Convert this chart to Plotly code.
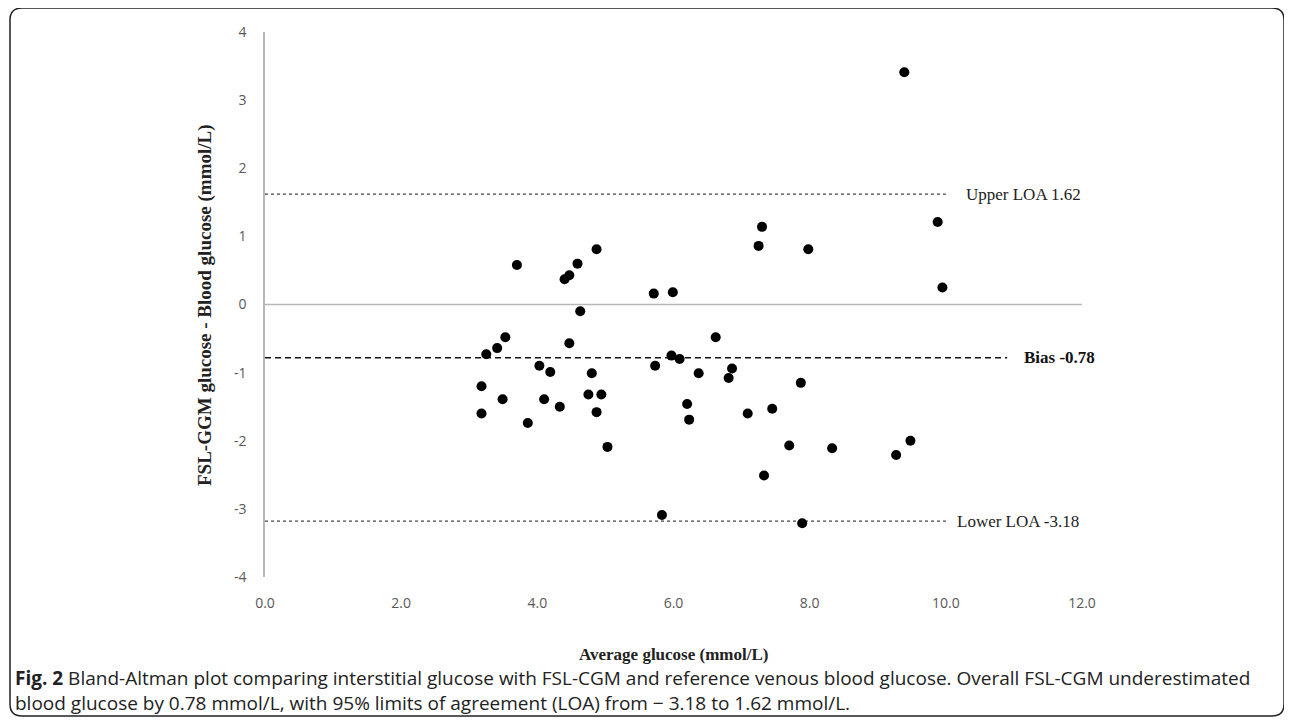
import plotly.graph_objects as go

avg_glucose = [3.70, 4.40, 4.47, 4.59, 4.87, 5.71, 5.99, 4.63, 9.39, 7.30,
               7.25, 7.98, 9.88, 9.95, 3.53, 3.41, 3.25, 4.47, 4.03, 4.19,
               4.80, 5.73, 5.97, 6.09, 6.37, 3.18, 3.49, 4.10, 4.33, 4.75,
               4.94, 4.87, 3.18, 3.86, 5.03, 6.20, 6.23, 5.83, 6.62, 6.86,
               6.81, 7.87, 7.09, 7.45, 7.70, 8.33, 9.48, 9.27, 7.33, 7.89]
diff_glucose = [0.58, 0.37, 0.43, 0.60, 0.81, 0.16, 0.18, -0.10, 3.41, 1.14,
                0.86, 0.81, 1.21, 0.25, -0.48, -0.64, -0.73, -0.57, -0.90, -0.99,
                -1.01, -0.90, -0.75, -0.80, -1.01, -1.20, -1.39, -1.39, -1.50, -1.32,
                -1.32, -1.58, -1.60, -1.74, -2.09, -1.46, -1.69, -3.09, -0.48, -0.94,
                -1.08, -1.15, -1.60, -1.53, -2.07, -2.11, -2.00, -2.21, -2.51, -3.21]

bias = -0.78
upper_loa = 1.62
lower_loa = -3.18
x_ticks = [0, 2, 4, 6, 8, 10, 12]
x_tick_labels = ["0.0", "2.0", "4.0", "6.0", "8.0", "10.0", "12.0"]
y_ticks = [-4, -3, -2, -1, 0, 1, 2, 3, 4]
y_tick_labels = ["-4", "-3", "-2", "-1", "0", "1", "2", "3", "4"]
loa_line_end = 10.0
bias_line_end = 10.9
zero_line_end = 12.0

caption_line1 = ("<b>Fig. 2</b> Bland-Altman plot comparing interstitial glucose with FSL-CGM and "
                 "reference venous blood glucose. Overall FSL-CGM underestimated")
caption_line2 = ("blood glucose by 0.78 mmol/L, with 95% limits of agreement (LOA) from "
                 "\u2212 3.18 to 1.62 mmol/L.")

# page is offset by the 8px body margin; figure coords = page coords - 8
OFF = 8
W, H = 1276, 712
L, T = 265 - OFF, 32 - OFF
R = W - (1082 - OFF)
B = H - (577 - OFF)

fig = go.Figure()

fig.add_trace(go.Scatter(x=[0, zero_line_end], y=[0, 0], mode="lines",
                         line=dict(color="#b8b8b8", width=1.6), hoverinfo="skip", showlegend=False))
for v in (upper_loa, lower_loa):
    fig.add_trace(go.Scatter(x=[0, loa_line_end], y=[v, v], mode="lines",
                             line=dict(color="#444444", width=1.2, dash="dot"),
                             hoverinfo="skip", showlegend=False))
fig.add_trace(go.Scatter(x=[0, bias_line_end], y=[bias, bias], mode="lines",
                         line=dict(color="#111111", width=1.5, dash="6px,4px"),
                         hoverinfo="skip", showlegend=False))
fig.add_trace(go.Scatter(x=avg_glucose, y=diff_glucose, mode="markers",
                         marker=dict(color="black", size=10), showlegend=False))

serif = "Liberation Serif"
fig.add_annotation(x=10.26, y=upper_loa, xref="x", yref="y", text="Upper LOA 1.62",
                   showarrow=False, xanchor="left", yanchor="middle",
                   font=dict(family=serif, size=17, color="#222"))
fig.add_annotation(x=11.12, y=bias, xref="x", yref="y", text="<b>Bias -0.78</b>",
                   showarrow=False, xanchor="left", yanchor="middle",
                   font=dict(family=serif, size=17, color="#111"))
fig.add_annotation(x=10.14, y=lower_loa, xref="x", yref="y", text="Lower LOA -3.18",
                   showarrow=False, xanchor="left", yanchor="middle",
                   font=dict(family=serif, size=17, color="#222"))

pw = W - L - R
ph = H - T - B
def px(x):  # page pixel -> paper x
    return (x - OFF - L) / pw
def py(y):  # page pixel -> paper y
    return (H - B - (y - OFF)) / ph

fig.add_annotation(x=px(673), y=py(654), xref="paper", yref="paper",
                   xanchor="center", yanchor="middle",
                   text="<b>Average glucose (mmol/L)</b>", showarrow=False,
                   font=dict(family=serif, size=17, color="#222"))
fig.add_annotation(x=px(205), y=py(305), xref="paper", yref="paper",
                   xanchor="center", yanchor="middle",
                   text="<b>FSL-GGM glucose - Blood glucose (mmol/L)</b>", showarrow=False,
                   textangle=-90, font=dict(family=serif, size=19, color="#222"))

fig.add_annotation(x=px(13), y=py(690), xref="paper", yref="paper", xanchor="left",
                   yanchor="middle", align="left", showarrow=False,
                   text=caption_line1 + "<br>" + caption_line2,
                   font=dict(family="Open Sans", size=19, color="#222"))

x0, x1, y0, y1, r = px(10), px(1284), py(8), py(716), 12
rx, ry = r / pw, r / ph
path = (f"M {x0+rx},{y0} L {x1-rx},{y0} Q {x1},{y0} {x1},{y0-ry} "
        f"L {x1},{y1+ry} Q {x1},{y1} {x1-rx},{y1} L {x0+rx},{y1} Q {x0},{y1} {x0},{y1+ry} "
        f"L {x0},{y0-ry} Q {x0},{y0} {x0+rx},{y0} Z")
fig.add_shape(type="path", path=path, xref="paper", yref="paper",
              line=dict(color="#222", width=1.5))

tickfont = dict(family="Open Sans", size=14, color="#595959")
fig.update_xaxes(range=[0, 12], tickvals=x_ticks, ticktext=x_tick_labels, showgrid=False,
                 zeroline=False, showline=False, ticks="", tickfont=tickfont, ticklabelstandoff=16)
fig.update_yaxes(range=[-4, 4], tickvals=y_ticks, ticktext=y_tick_labels, showgrid=False,
                 zeroline=False, showline=True, linecolor="#b8b8b8", linewidth=1.6, ticks="",
                 tickfont=tickfont, ticklabelstandoff=14)
fig.update_layout(width=W, height=H, margin=dict(l=L, r=R, t=T, b=B),
                  plot_bgcolor="white", paper_bgcolor="white")

fig.write_html("out.html")
